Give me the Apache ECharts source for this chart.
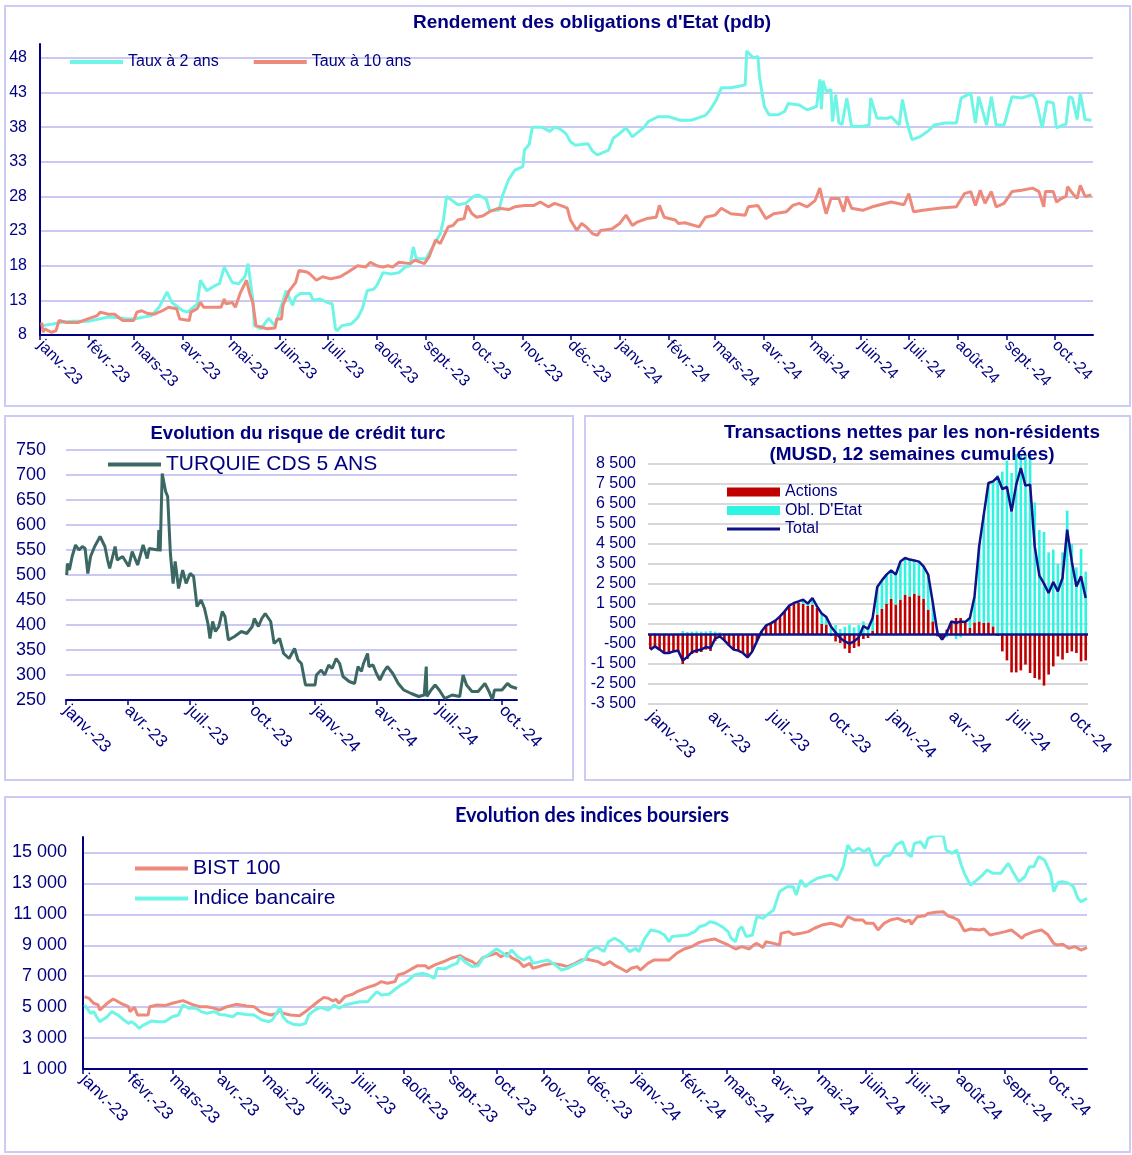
<!DOCTYPE html>
<html>
<head>
<meta charset="utf-8">
<title>Turquie - marchés</title>
<script src="https://cdn.jsdelivr.net/npm/echarts@6/dist/echarts.min.js"></script>
<style>
  html, body { margin: 0; padding: 0; background: #fff; }
  #chart { width: 1132px; height: 1155px; }
</style>
</head>
<body>
<div id="chart"></div>
<script>
// libellés des mois (axes x)
var monthNames = ['janv.', 'févr.', 'mars', 'avr.', 'mai', 'juin', 'juil.', 'août', 'sept.', 'oct.', 'nov.', 'déc.'];

// Rendement des obligations d'Etat - taux à 2 ans
var t2Dates = ['2023-01-02','2023-01-07','2023-01-14','2023-01-21','2023-02-01','2023-02-13','2023-02-23','2023-03-01','2023-03-12','2023-03-17',
  '2023-03-22','2023-03-25','2023-04-01','2023-04-04','2023-04-10','2023-04-12','2023-04-16','2023-04-21','2023-04-24','2023-04-27',
  '2023-05-02','2023-05-06','2023-05-10','2023-05-12','2023-05-15','2023-05-16','2023-05-20','2023-05-25','2023-05-29','2023-06-01',
  '2023-06-05','2023-06-09','2023-06-11','2023-06-14','2023-06-20','2023-06-22','2023-06-26','2023-07-01','2023-07-04','2023-07-06',
  '2023-07-07','2023-07-10','2023-07-16','2023-07-20','2023-07-23','2023-07-26','2023-07-30','2023-08-01','2023-08-05','2023-08-10',
  '2023-08-15','2023-08-19','2023-08-22','2023-08-24','2023-08-26','2023-09-01','2023-09-06','2023-09-10','2023-09-12','2023-09-14',
  '2023-09-17','2023-09-21','2023-09-26','2023-10-01','2023-10-04','2023-10-09','2023-10-11','2023-10-17','2023-10-19','2023-10-23',
  '2023-10-27','2023-11-01','2023-11-02','2023-11-05','2023-11-07','2023-11-13','2023-11-18','2023-11-21','2023-11-24','2023-11-28',
  '2023-12-01','2023-12-04','2023-12-12','2023-12-15','2023-12-18','2023-12-21','2023-12-25','2023-12-28','2024-01-01','2024-01-05',
  '2024-01-09','2024-01-11','2024-01-16','2024-01-19','2024-01-25','2024-02-01','2024-02-08','2024-02-15','2024-02-19','2024-02-24',
  '2024-02-27','2024-03-02','2024-03-05','2024-03-11','2024-03-16','2024-03-20','2024-03-21','2024-03-25','2024-03-28','2024-03-29',
  '2024-04-01','2024-04-04','2024-04-10','2024-04-14','2024-04-16','2024-04-23','2024-04-28','2024-05-02','2024-05-04','2024-05-06',
  '2024-05-07','2024-05-08','2024-05-10','2024-05-13','2024-05-14','2024-05-16','2024-05-18','2024-05-20','2024-05-23','2024-05-26',
  '2024-06-02','2024-06-06','2024-06-07','2024-06-11','2024-06-18','2024-06-20','2024-06-25','2024-06-27','2024-06-30','2024-07-03',
  '2024-07-08','2024-07-13','2024-07-17','2024-07-24','2024-07-31','2024-08-03','2024-08-09','2024-08-12','2024-08-14','2024-08-19',
  '2024-08-22','2024-08-25','2024-08-30','2024-09-04','2024-09-10','2024-09-17','2024-09-19','2024-09-23','2024-09-26','2024-09-30',
  '2024-10-02','2024-10-06','2024-10-08','2024-10-10','2024-10-12','2024-10-15','2024-10-17','2024-10-20','2024-10-24'];
var t2Vals = [9.35,9.5,9.8,10.0,10.0,10.6,10.4,10.3,10.8,12.0,
  14.2,12.7,11.5,11.3,12.5,15.9,14.4,15.1,15.4,17.8,
  15.6,15.4,16.4,18.3,13.0,9.35,8.9,10.4,9.3,11.5,
  14.4,12.3,13.5,14.0,14.0,13.0,13.2,12.7,12.5,8.9,
  8.6,9.35,9.6,10.5,11.8,14.4,14.6,15.1,17.0,16.8,
  17.0,17.8,18.0,20.7,19.0,19.0,21.0,22.6,24.6,28.0,
  27.5,26.8,27.0,28.0,28.2,27.6,26.0,26.0,28.0,30.4,
  31.8,32.3,34.7,35.5,38.0,38.0,37.4,38.0,37.8,37.1,
  35.9,35.4,35.6,34.5,34.0,34.3,34.7,36.4,37.1,37.9,
  36.6,37.0,37.9,38.8,39.5,39.5,39.0,39.0,39.3,39.7,
  40.5,42.0,43.7,43.7,43.9,44.1,49.0,48.0,48.2,45.3,
  41.0,39.8,39.8,40.3,41.4,41.2,40.5,40.8,41.0,44.9,
  40.6,44.7,43.2,43.4,38.8,42.7,38.6,38.4,42.2,38.1,
  38.1,38.3,42.2,39.3,39.3,39.5,38.3,42.0,38.6,36.2,
  36.6,37.4,38.3,38.6,38.6,42.2,42.9,38.6,42.4,38.3,
  42.4,38.3,38.3,42.4,42.2,42.7,42.0,37.9,41.7,41.5,
  37.9,38.3,38.4,42.4,42.2,39.1,42.9,39.1,39.0];

// taux à 10 ans
var t10Dates = ['2023-01-02','2023-01-03','2023-01-04','2023-01-08','2023-01-11','2023-01-13','2023-01-18','2023-01-25','2023-02-01','2023-02-06',
  '2023-02-08','2023-02-13','2023-02-17','2023-02-22','2023-03-01','2023-03-03','2023-03-06','2023-03-10','2023-03-14','2023-03-19',
  '2023-03-23','2023-03-28','2023-03-30','2023-04-05','2023-04-06','2023-04-10','2023-04-12','2023-04-14','2023-04-25','2023-04-27',
  '2023-04-28','2023-05-02','2023-05-04','2023-05-07','2023-05-11','2023-05-13','2023-05-15','2023-05-17','2023-05-24','2023-05-29',
  '2023-05-30','2023-06-02','2023-06-03','2023-06-07','2023-06-11','2023-06-13','2023-06-18','2023-06-20','2023-06-24','2023-06-28',
  '2023-07-03','2023-07-09','2023-07-14','2023-07-20','2023-07-25','2023-07-28','2023-08-01','2023-08-05','2023-08-08','2023-08-11',
  '2023-08-15','2023-08-22','2023-08-25','2023-08-31','2023-09-03','2023-09-07','2023-09-10','2023-09-15','2023-09-18','2023-09-21',
  '2023-09-25','2023-09-27','2023-09-30','2023-10-03','2023-10-07','2023-10-11','2023-10-17','2023-10-23','2023-10-27','2023-11-02',
  '2023-11-08','2023-11-12','2023-11-17','2023-11-21','2023-11-26','2023-11-29','2023-12-01','2023-12-05','2023-12-08','2023-12-11',
  '2023-12-15','2023-12-18','2023-12-20','2023-12-27','2024-01-01','2024-01-05','2024-01-09','2024-01-12','2024-01-18','2024-01-24',
  '2024-01-26','2024-01-29','2024-02-05','2024-02-07','2024-02-11','2024-02-20','2024-02-24','2024-03-01','2024-03-05','2024-03-11',
  '2024-03-20','2024-03-22','2024-03-28','2024-04-02','2024-04-07','2024-04-15','2024-04-19','2024-04-23','2024-04-28','2024-05-03',
  '2024-05-06','2024-05-08','2024-05-10','2024-05-13','2024-05-18','2024-05-21','2024-05-23','2024-05-26','2024-06-02','2024-06-08',
  '2024-06-13','2024-06-20','2024-06-28','2024-07-01','2024-07-04','2024-07-10','2024-07-20','2024-07-31','2024-08-05','2024-08-09',
  '2024-08-12','2024-08-15','2024-08-18','2024-08-22','2024-08-25','2024-08-30','2024-09-04','2024-09-10','2024-09-17','2024-09-21',
  '2024-09-24','2024-09-25','2024-09-30','2024-10-02','2024-10-05','2024-10-08','2024-10-09','2024-10-13','2024-10-15','2024-10-17',
  '2024-10-20','2024-10-24'];
var t10Vals = [9.8,8.4,8.9,8.4,8.6,10.1,9.8,9.8,10.4,10.8,
  11.3,11.0,11.0,10.1,10.1,11.3,11.5,11.1,11.0,11.5,
  12.0,11.8,10.3,10.1,11.3,11.8,12.7,12.0,12.0,13.2,
  12.5,12.7,12.0,14.0,15.9,14.0,12.7,9.35,8.9,9.0,
  10.3,10.3,12.3,14.4,15.6,17.3,17.1,16.8,15.9,16.4,
  16.1,16.4,17.1,18.0,17.8,18.5,18.0,17.8,18.0,17.8,
  18.5,18.3,18.8,18.3,19.3,21.7,21.2,23.6,23.8,24.6,
  24.8,26.7,25.5,25.0,25.2,25.8,26.3,26.1,26.5,26.7,
  26.7,27.2,26.5,27.0,26.6,26.3,24.6,23.1,24.1,23.6,
  22.6,22.4,23.1,23.3,24.1,25.3,23.8,24.3,24.8,25.0,
  26.7,25.0,24.6,24.1,24.2,23.6,25.0,25.3,26.3,25.5,
  25.3,26.5,26.7,24.8,25.5,25.8,26.7,27.0,26.5,27.4,
  29.2,27.2,25.5,27.7,27.7,25.8,28.0,26.3,26.0,26.5,
  26.8,27.2,26.8,28.4,25.8,26.0,26.3,26.5,28.4,28.7,
  26.7,28.9,27.0,28.7,26.5,27.0,28.7,28.9,29.2,28.7,
  26.5,28.7,28.7,27.2,27.7,28.0,29.4,28.2,27.7,29.6,
  28.0,28.2];

// CDS 5 ans
var cdsDates = ['2023-01-02','2023-01-03','2023-01-06','2023-01-10','2023-01-15','2023-01-20','2023-01-25','2023-01-29','2023-02-02','2023-02-06',
  '2023-02-12','2023-02-20','2023-02-27','2023-03-03','2023-03-06','2023-03-14','2023-03-17','2023-03-25','2023-04-03','2023-04-08',
  '2023-04-16','2023-04-24','2023-04-30','2023-05-03','2023-05-16','2023-05-17','2023-05-19','2023-05-22','2023-05-27','2023-05-30',
  '2023-06-03','2023-06-07','2023-06-10','2023-06-15','2023-06-21','2023-06-26','2023-07-02','2023-07-07','2023-07-12','2023-07-18',
  '2023-07-23','2023-07-28','2023-07-31','2023-08-04','2023-08-08','2023-08-13','2023-08-18','2023-08-22','2023-08-27','2023-09-05',
  '2023-09-15','2023-09-23','2023-10-01','2023-10-04','2023-10-10','2023-10-15','2023-10-20','2023-10-28','2023-11-02','2023-11-10',
  '2023-11-16','2023-11-24','2023-12-02','2023-12-07','2023-12-12','2023-12-18','2023-12-24','2024-01-01','2024-01-03','2024-01-10',
  '2024-01-15','2024-01-21','2024-01-26','2024-02-01','2024-02-06','2024-02-11','2024-02-20','2024-02-28','2024-03-04','2024-03-09',
  '2024-03-12','2024-03-18','2024-03-20','2024-03-26','2024-03-31','2024-04-05','2024-04-11','2024-04-16','2024-04-24','2024-05-02',
  '2024-05-10','2024-05-21','2024-06-01','2024-06-09','2024-06-12','2024-06-13','2024-06-19','2024-06-25','2024-07-01','2024-07-09',
  '2024-07-20','2024-07-31','2024-08-05','2024-08-10','2024-08-18','2024-08-27','2024-09-06','2024-09-12','2024-09-17','2024-09-20',
  '2024-10-01','2024-10-09','2024-10-14','2024-10-23'];
var cdsVals = [500,523,510,537,560,550,557,553,503,537,
  557,577,557,530,513,557,530,537,517,547,
  520,560,533,553,550,590,547,703,667,657,
  543,483,527,473,510,483,503,497,437,450,
  433,403,373,407,387,397,427,417,370,377,
  387,383,397,413,397,413,423,407,363,373,
  343,333,353,330,323,280,280,280,300,310,
  300,320,313,333,323,297,287,283,317,307,
  323,343,317,320,303,290,307,317,303,283,
  270,263,257,260,317,257,270,280,270,253,
  260,257,300,280,267,267,283,267,250,270,
  270,283,277,273];

// Transactions nettes des non-résidents, une valeur par semaine (MUSD, 12 semaines cumulées)
var actionsVals = [-750,-700,-800,-950,-950,-900,-850,-1500,-1250,-1000,
  -950,-900,-780,-850,-350,-200,-350,-600,-800,-850,
  -950,-1150,-850,-350,100,400,500,650,850,1100,
  1350,1500,1550,1500,1400,1450,1300,500,470,-100,
  -370,-450,-730,-950,-700,-620,-250,-200,150,970,
  1250,1520,1750,1470,1720,1970,1880,2020,1930,1750,
  1220,630,-120,-280,220,550,800,800,550,300,
  580,630,550,580,380,-100,-870,-1320,-1920,-1920,
  -1820,-1530,-1950,-2200,-2280,-2580,-2030,-1620,-1120,-1280,
  -950,-870,-950,-1370,-1320];
var bondsVals = [0,50,0,0,0,0,0,150,100,120,
  130,120,130,150,120,80,30,30,20,20,
  0,-20,-20,-20,30,30,30,20,30,30,
  70,50,80,220,120,350,80,520,380,380,
  450,250,360,470,330,450,630,380,650,1380,
  1430,1450,1430,1500,1910,1830,1840,1660,1690,1630,
  1750,920,170,0,-170,80,-250,-170,50,500,
  1300,3750,5420,6970,7250,7950,8120,8670,8050,9390,
  10100,8950,9420,6580,5200,5100,4080,4220,3500,4080,
  6170,4500,3330,4250,3120];
var totalVals = [-780,-620,-780,-950,-950,-870,-830,-1320,-1150,-900,
  -820,-780,-650,-700,-230,-120,-320,-570,-780,-830,
  -950,-1170,-870,-370,130,430,530,670,880,1130,
  1420,1550,1630,1720,1520,1800,1380,1020,850,380,
  80,-200,-370,-480,-370,-170,400,250,800,2350,
  2680,2970,3180,2970,3630,3800,3720,3680,3620,3380,
  2970,1550,50,-280,50,630,550,630,600,800,
  1880,4380,5970,7550,7630,7850,7250,7350,6130,7470,
  8300,7420,7470,4380,2920,2520,2050,2600,2130,2800,
  5220,3630,2380,2880,1800];

// Indices boursiers - BIST 100
var bistDates = ['2023-01-02','2023-01-05','2023-01-08','2023-01-11','2023-01-12','2023-01-17','2023-01-21','2023-01-26','2023-01-31','2023-02-01',
  '2023-02-04','2023-02-06','2023-02-13','2023-02-14','2023-02-19','2023-02-24','2023-03-01','2023-03-08','2023-03-14','2023-03-19',
  '2023-03-24','2023-03-29','2023-04-01','2023-04-05','2023-04-12','2023-04-19','2023-04-24','2023-04-28','2023-05-01','2023-05-05',
  '2023-05-09','2023-05-11','2023-05-13','2023-05-18','2023-05-24','2023-05-28','2023-06-01','2023-06-05','2023-06-09','2023-06-12',
  '2023-06-15','2023-06-17','2023-06-19','2023-06-23','2023-06-28','2023-07-01','2023-07-08','2023-07-13','2023-07-17','2023-07-21',
  '2023-07-26','2023-07-28','2023-08-01','2023-08-06','2023-08-10','2023-08-15','2023-08-17','2023-08-21','2023-08-24','2023-08-28',
  '2023-09-01','2023-09-07','2023-09-10','2023-09-15','2023-09-18','2023-09-22','2023-09-27','2023-10-01','2023-10-04','2023-10-08',
  '2023-10-11','2023-10-16','2023-10-19','2023-10-23','2023-10-25','2023-10-29','2023-11-01','2023-11-07','2023-11-13','2023-11-17',
  '2023-11-22','2023-11-26','2023-11-30','2023-12-02','2023-12-07','2023-12-11','2023-12-15','2023-12-18','2023-12-22','2023-12-26',
  '2023-12-29','2024-01-02','2024-01-04','2024-01-09','2024-01-13','2024-01-18','2024-01-23','2024-01-28','2024-02-02','2024-02-07',
  '2024-02-12','2024-02-16','2024-02-22','2024-02-26','2024-03-02','2024-03-07','2024-03-11','2024-03-16','2024-03-19','2024-03-21',
  '2024-03-25','2024-03-27','2024-04-01','2024-04-05','2024-04-06','2024-04-11','2024-04-14','2024-04-19','2024-04-24','2024-04-28',
  '2024-05-03','2024-05-09','2024-05-13','2024-05-16','2024-05-20','2024-05-25','2024-05-30','2024-06-01','2024-06-06','2024-06-09',
  '2024-06-13','2024-06-17','2024-06-22','2024-06-27','2024-06-30','2024-07-01','2024-07-05','2024-07-10','2024-07-12','2024-07-17',
  '2024-07-22','2024-07-25','2024-07-29','2024-08-01','2024-08-05','2024-08-09','2024-08-15','2024-08-18','2024-08-22','2024-08-27',
  '2024-09-01','2024-09-05','2024-09-08','2024-09-12','2024-09-14','2024-09-20','2024-09-25','2024-09-29','2024-10-03','2024-10-05',
  '2024-10-09','2024-10-13','2024-10-17','2024-10-21','2024-10-25'];
var bistVals = [5680,5570,5250,5140,4810,5250,5530,5250,5030,4710,
  4990,4490,4490,5030,5140,5100,5250,5420,5180,5030,
  5030,4920,4810,4990,5180,5070,5030,4710,4600,4490,
  4600,4810,4600,4490,4450,4710,5030,5350,5630,5570,
  5400,5510,5250,5680,5830,6000,6280,6430,6650,6540,
  6650,7080,7190,7470,7680,7680,7510,7720,7830,7980,
  8160,8330,8160,7940,7720,8200,8370,8480,8260,8480,
  8200,7940,7620,7830,7510,7620,7720,7830,7720,7620,
  7830,8050,8110,8050,7940,7720,7940,7720,7510,7290,
  7510,7620,7400,7830,8050,8050,8050,8480,8760,8910,
  9190,9300,9410,9230,9020,8760,8910,8760,9020,9120,
  8850,9230,9120,9020,9770,9880,9700,9770,9880,10100,
  10310,10420,10310,10200,10850,10630,10630,10420,10420,9990,
  10420,10630,10740,10530,10630,10350,10850,10910,11060,11130,
  11170,10910,10780,10630,9920,10050,9990,10050,9660,9770,
  9880,9990,9770,9450,9660,9880,9990,9700,9120,9020,
  9060,8800,8910,8690,8850];

// Indice bancaire
var bankDates = ['2023-01-02','2023-01-03','2023-01-06','2023-01-08','2023-01-12','2023-01-17','2023-01-20','2023-01-24','2023-01-28','2023-01-31',
  '2023-02-02','2023-02-05','2023-02-07','2023-02-10','2023-02-15','2023-02-20','2023-02-24','2023-03-01','2023-03-05','2023-03-08',
  '2023-03-12','2023-03-17','2023-03-20','2023-03-24','2023-03-29','2023-04-01','2023-04-05','2023-04-10','2023-04-13','2023-04-19',
  '2023-04-24','2023-04-29','2023-05-04','2023-05-06','2023-05-11','2023-05-13','2023-05-16','2023-05-20','2023-05-24','2023-05-28',
  '2023-05-30','2023-06-03','2023-06-07','2023-06-12','2023-06-16','2023-06-19','2023-06-23','2023-06-28','2023-07-03','2023-07-08',
  '2023-07-10','2023-07-14','2023-07-17','2023-07-22','2023-07-27','2023-07-30','2023-08-03','2023-08-08','2023-08-13','2023-08-17',
  '2023-08-21','2023-08-23','2023-08-28','2023-09-01','2023-09-05','2023-09-07','2023-09-10','2023-09-15','2023-09-19','2023-09-22',
  '2023-09-26','2023-10-01','2023-10-04','2023-10-08','2023-10-11','2023-10-15','2023-10-19','2023-10-23','2023-10-25','2023-10-30',
  '2023-11-04','2023-11-09','2023-11-13','2023-11-17','2023-11-21','2023-11-26','2023-11-29','2023-12-01','2023-12-03','2023-12-06',
  '2023-12-11','2023-12-14','2023-12-18','2023-12-22','2023-12-26','2023-12-28','2024-01-01','2024-01-03','2024-01-07','2024-01-11',
  '2024-01-16','2024-01-20','2024-01-23','2024-01-25','2024-01-30','2024-02-04','2024-02-09','2024-02-12','2024-02-16','2024-02-19',
  '2024-02-23','2024-02-27','2024-03-02','2024-03-04','2024-03-07','2024-03-09','2024-03-11','2024-03-14','2024-03-18','2024-03-21',
  '2024-03-25','2024-03-29','2024-04-01','2024-04-05','2024-04-10','2024-04-14','2024-04-16','2024-04-19','2024-04-22','2024-04-26',
  '2024-04-30','2024-05-04','2024-05-09','2024-05-13','2024-05-17','2024-05-20','2024-05-23','2024-05-27','2024-05-31','2024-06-03',
  '2024-06-07','2024-06-09','2024-06-13','2024-06-17','2024-06-21','2024-06-25','2024-06-28','2024-07-01','2024-07-03','2024-07-07',
  '2024-07-10','2024-07-12','2024-07-17','2024-07-22','2024-07-24','2024-07-28','2024-07-31','2024-08-03','2024-08-05','2024-08-09',
  '2024-08-12','2024-08-17','2024-08-20','2024-08-24','2024-08-29','2024-09-03','2024-09-06','2024-09-10','2024-09-14','2024-09-17',
  '2024-09-20','2024-09-23','2024-09-27','2024-10-01','2024-10-03','2024-10-06','2024-10-09','2024-10-13','2024-10-16','2024-10-19',
  '2024-10-21','2024-10-25'];
var bankVals = [5140,5250,4600,4710,4060,4380,4710,4490,4170,3950,
  4060,3840,3630,3840,4100,4060,4060,4380,4490,5140,
  4920,4920,4710,4600,4710,4530,4490,4380,4600,4530,
  4490,4170,4060,4170,4970,4380,4060,3890,3840,3950,
  4490,4810,4990,4810,5140,4920,5140,5250,5350,5350,
  5570,6000,5780,5830,6220,6430,6650,7080,7190,7080,
  6860,7510,7470,7680,7830,8260,7940,7620,7680,8160,
  8410,8760,8590,8260,8700,8260,8050,8260,7830,7940,
  8050,7720,7400,7510,7720,7940,8160,8590,8700,8910,
  8590,9230,9450,9230,8800,8590,8800,8590,9450,9990,
  9880,9660,9230,9560,9620,9660,9880,10200,10310,10530,
  10420,10200,9880,9450,9230,9990,10200,9560,9660,10850,
  10740,11060,11280,12470,12790,12790,12250,13220,12790,13110,
  13330,13440,13540,13220,14080,15480,15050,15270,15050,15270,
  14190,14190,14730,14840,15480,15700,14940,14730,15590,15700,
  15270,15910,16100,16100,15160,14940,15160,14190,13650,12900,
  13110,13540,13870,13650,13650,14300,13760,13110,13430,14080,
  14080,14730,14510,13650,12470,13070,13110,13000,12790,12030,
  11820,12030];

var NAVY = '#000080';
var FONT = 'Liberation Sans, Arial, sans-serif';
// icône de légende pour la courbe Total (trait fin dans une case de 53x9)
var THIN_LINE_ICON = 'path://M0,0M53,9M0,3H53V6H0Z';

function dayList(from, to) {
  var out = [];
  var d = new Date(from + 'T00:00:00Z');
  var end = new Date(to + 'T00:00:00Z');
  while (d <= end) {
    out.push(d.toISOString().slice(0, 10));
    d.setUTCDate(d.getUTCDate() + 1);
  }
  return out;
}
function weekList(from, n) {
  var out = [];
  var d = new Date(from + 'T00:00:00Z');
  for (var i = 0; i < n; i++) {
    out.push(d.toISOString().slice(0, 10));
    d.setUTCDate(d.getUTCDate() + 7);
  }
  return out;
}
function pairs(dates, vals) {
  var out = [];
  for (var i = 0; i < dates.length; i++) out.push([dates[i], vals[i]]);
  return out;
}
function monthLabel(d) {
  return monthNames[+d.slice(5, 7) - 1] + '-' + d.slice(2, 4);
}
function isMonthStart(idx, d) { return d.slice(8) === '01'; }
function isQuarterStart(idx, d) {
  return d.slice(8) === '01' && ['01', '04', '07', '10'].indexOf(d.slice(5, 7)) >= 0;
}
function isQuarterWeek(idx, d) {
  return +d.slice(8) <= 7 && ['01', '04', '07', '10'].indexOf(d.slice(5, 7)) >= 0;
}
function fmtNum(v) {
  return String(v).replace(/\B(?=(\d{3})+(?!\d))/g, ' ');
}

var daysTop = dayList('2023-01-01', '2024-10-25');
var daysCds = dayList('2023-01-01', '2024-10-23');
var weeks = weekList('2023-01-06', actionsVals.length);

function dateAxis(gridIndex, cats, intervalFn, fontSize) {
  return {
    type: 'category', gridIndex: gridIndex, data: cats, boundaryGap: false,
    axisLine: { show: true, lineStyle: { color: NAVY, width: 2 } },
    axisTick: { show: true, interval: intervalFn, length: 5, lineStyle: { color: NAVY, width: 1.5 } },
    axisLabel: {
      interval: intervalFn, rotate: -45, margin: 8, color: NAVY,
      fontFamily: FONT, fontSize: fontSize, formatter: monthLabel
    },
    splitLine: { show: false }
  };
}
function valueAxis(gridIndex, min, max, interval, fontSize, margin, axisLine, gridColor, topOnGrid) {
  return {
    type: 'value', gridIndex: gridIndex, min: min, max: max, interval: interval,
    axisLine: { show: axisLine, lineStyle: { color: NAVY, width: 2 } },
    axisTick: { show: false },
    axisLabel: {
      color: NAVY, fontFamily: FONT, fontSize: fontSize, margin: margin,
      showMaxLabel: topOnGrid, formatter: fmtNum
    },
    splitLine: { show: true, showMaxLine: topOnGrid, lineStyle: { color: gridColor, width: 2 } }
  };
}
function frame(x, y, w, h) {
  return { type: 'rect', shape: { x: x, y: y, width: w, height: h },
    style: { fill: 'none', stroke: '#CBCBF3', lineWidth: 2 }, silent: true };
}
function title(text, x, y, size, family) {
  return { type: 'text', x: x, y: y, silent: true, z: 10,
    style: { text: text, fill: NAVY, font: 'bold ' + size + 'px ' + (family || FONT),
      textAlign: 'center', textVerticalAlign: 'middle' } };
}

var myChart = echarts.init(document.getElementById('chart'), null, { renderer: 'canvas' });

var option = {
  backgroundColor: '#ffffff',
  animation: false,
  graphic: [
    frame(5, 6, 1125, 400),
    frame(5, 416, 568, 364),
    frame(585, 416, 545, 364),
    frame(5, 797, 1125, 355),
    title("Rendement des obligations d'Etat (pdb)", 592, 23, 19),
    title('Evolution du risque de crédit turc', 298, 434, 18.5),
    title('Transactions nettes par les non-résidents', 912, 433, 19),
    title('(MUSD, 12 semaines cumulées)', 912, 455, 19),
    title('Evolution des indices boursiers', 592, 816, 20, 'Lato, sans-serif')
  ],
  grid: [
    { left: 40, top: 44, width: 1053, height: 291 },
    { left: 66, top: 450, width: 451, height: 250 },
    { left: 648, top: 454, width: 440, height: 250 },
    { left: 83, top: 837, width: 1004, height: 232 }
  ],
  legend: [
    {
      data: ['Taux à 2 ans', 'Taux à 10 ans'], left: 65, top: 49, itemGap: 35,
      icon: 'rect', itemWidth: 53, itemHeight: 4, selectedMode: false,
      textStyle: { color: NAVY, fontFamily: FONT, fontSize: 16 }
    },
    {
      data: ['TURQUIE CDS 5 ANS'], left: 103, top: 449,
      icon: 'rect', itemWidth: 53, itemHeight: 4, selectedMode: false,
      textStyle: { color: NAVY, fontFamily: FONT, fontSize: 21 }
    },
    {
      data: [
        { name: 'Actions', icon: 'rect' },
        { name: "Obl. D'Etat", icon: 'rect' },
        { name: 'Total', icon: THIN_LINE_ICON }
      ],
      orient: 'vertical', left: 722, top: 479, itemGap: 2.5,
      itemWidth: 53, itemHeight: 9, selectedMode: false,
      textStyle: { color: NAVY, fontFamily: FONT, fontSize: 16 }
    },
    {
      data: ['BIST 100', 'Indice bancaire'], orient: 'vertical', left: 130, top: 853, itemGap: 9,
      icon: 'rect', itemWidth: 53, itemHeight: 4, selectedMode: false,
      textStyle: { color: NAVY, fontFamily: FONT, fontSize: 21 }
    }
  ],
  xAxis: [
    dateAxis(0, daysTop, isMonthStart, 16),
    dateAxis(1, daysCds, isQuarterStart, 17),
    {
      type: 'category', gridIndex: 2, data: weeks, boundaryGap: true,
      axisLine: { show: false, onZero: false }, axisTick: { show: false },
      axisLabel: {
        interval: isQuarterWeek, rotate: -45, margin: 10, color: NAVY,
        fontFamily: FONT, fontSize: 17, formatter: monthLabel
      },
      splitLine: { show: false }
    },
    dateAxis(3, daysTop, isMonthStart, 17)
  ],
  yAxis: [
    valueAxis(0, 8, 50, 5, 16, 13, true, '#C9C9F4', false),
    valueAxis(1, 250, 750, 50, 18, 20, false, '#C9C9F4', true),
    valueAxis(2, -3500, 9000, 1000, 16, 12, false, '#D8D8D8', false),
    valueAxis(3, 1000, 16000, 2000, 18, 16, true, '#C9C9F4', false)
  ],
  series: [
    {
      name: 'Taux à 2 ans', type: 'line', xAxisIndex: 0, yAxisIndex: 0,
      data: pairs(t2Dates, t2Vals), symbol: 'none', color: '#6FF5E6',
      lineStyle: { width: 3 }
    },
    {
      name: 'Taux à 10 ans', type: 'line', xAxisIndex: 0, yAxisIndex: 0,
      data: pairs(t10Dates, t10Vals), symbol: 'none', color: '#EE8A7B',
      lineStyle: { width: 3 }
    },
    {
      name: 'TURQUIE CDS 5 ANS', type: 'line', xAxisIndex: 1, yAxisIndex: 1,
      data: pairs(cdsDates, cdsVals), symbol: 'none', color: '#3B6862',
      lineStyle: { width: 3 }
    },
    {
      name: 'Actions', type: 'bar', xAxisIndex: 2, yAxisIndex: 2, stack: 'tr',
      data: actionsVals, color: '#C00000', barWidth: 2.6
    },
    {
      name: "Obl. D'Etat", type: 'bar', xAxisIndex: 2, yAxisIndex: 2, stack: 'tr',
      data: bondsVals, color: '#2EF5E2', barWidth: 2.6
    },
    {
      name: 'Total', type: 'line', xAxisIndex: 2, yAxisIndex: 2,
      data: totalVals, symbol: 'none', color: '#101088',
      lineStyle: { width: 2.5 },
      markLine: {
        silent: true, symbol: 'none', label: { show: false },
        lineStyle: { color: '#101088', width: 2.5, type: 'solid' },
        data: [{ yAxis: 0 }]
      }
    },
    {
      name: 'BIST 100', type: 'line', xAxisIndex: 3, yAxisIndex: 3,
      data: pairs(bistDates, bistVals), symbol: 'none', color: '#EE8A7B',
      lineStyle: { width: 3 }
    },
    {
      name: 'Indice bancaire', type: 'line', xAxisIndex: 3, yAxisIndex: 3,
      data: pairs(bankDates, bankVals), symbol: 'none', color: '#6FF5E6',
      lineStyle: { width: 3 }
    }
  ]
};

myChart.setOption(option);
window.addEventListener('resize', function() {
  myChart.resize();
});
</script>
</body>
</html>
